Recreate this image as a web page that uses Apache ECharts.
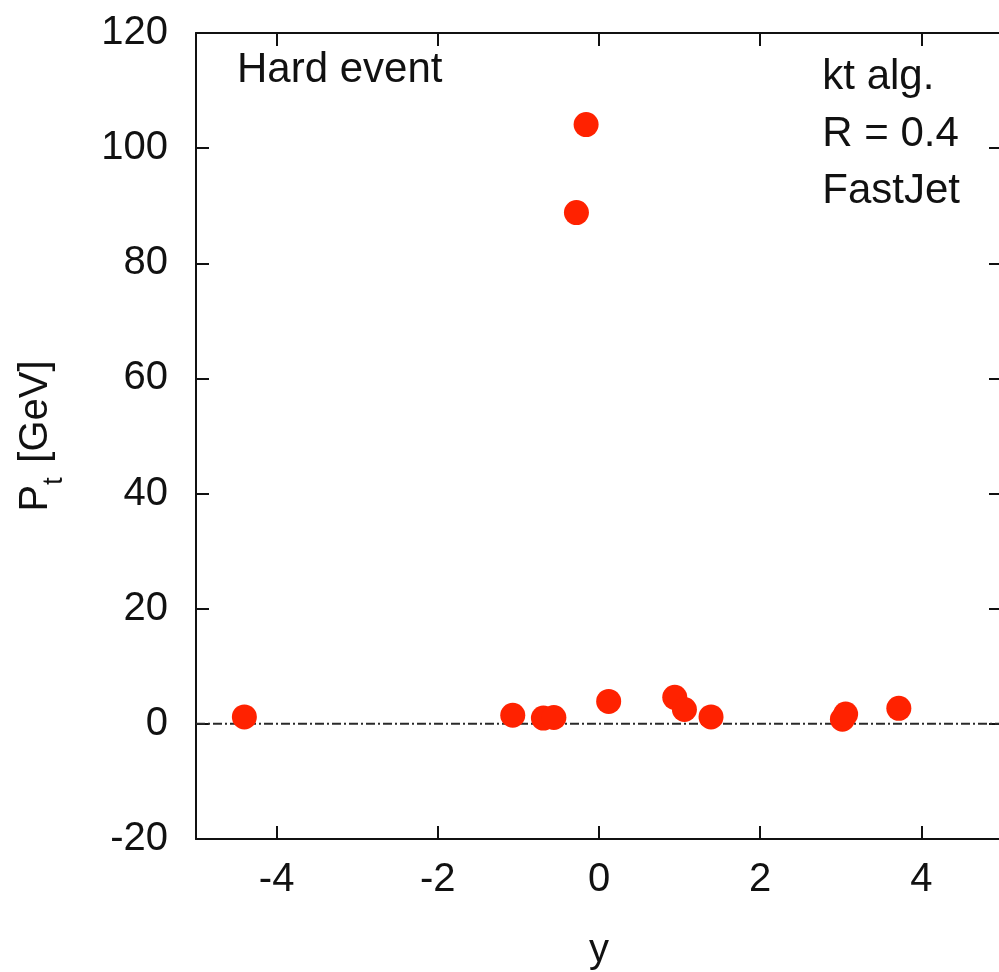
<!DOCTYPE html>
<html>
<head>
<meta charset="utf-8">
<script src="https://cdn.jsdelivr.net/npm/echarts@6/dist/echarts.min.js"></script>
<style>html,body{margin:0;padding:0;background:#fff}#c{width:999px;height:972px}</style>
</head>
<body>
<div id="c"></div>
<script>
// jet rapidity y and transverse momentum Pt [GeV]
var jetY  = [-4.40, -1.07, -0.69, -0.56, 0.12, 0.94, 1.06, 1.39, 3.02, 3.06, 3.72, -0.16, -0.28];
var jetPt = [1.2, 1.5, 1.0, 1.1, 3.9, 4.6, 2.5, 1.2, 0.8, 1.7, 2.7, 104.1, 88.8];
var xTicks = [-4, -2, 0, 2, 4];
var yTicks = [-20, 0, 20, 40, 60, 80, 100, 120];
var zeroLine = [[-5, 0], [5, 0]];

var points = jetY.map(function (v, i) { return [v, jetPt[i]]; });
var FONT = 'Liberation Sans, Arial, Helvetica, sans-serif';
var axisLine = { show: true, onZero: false, lineStyle: { color: '#111', width: 2 } };
var tick = { show: true, inside: true, length: 13, lineStyle: { color: '#111', width: 2 } };

var chart = echarts.init(document.getElementById('c'), null, { renderer: 'canvas' });
chart.setOption({
  animation: false,
  backgroundColor: '#fff',
  grid: { left: 196, top: 33, width: 806, height: 806, containLabel: false, outerBoundsMode: 'none' },
  xAxis: [{
    type: 'value', min: -5, max: 5, position: 'bottom',
    name: 'y', nameLocation: 'middle', nameGap: 92,
    nameTextStyle: { fontFamily: FONT, fontSize: 40, color: '#111' },
    axisLine: axisLine,
    axisTick: Object.assign({}, tick, { customValues: xTicks }),
    axisLabel: { customValues: xTicks, margin: 21, fontFamily: FONT, fontSize: 40, color: '#111' },
    splitLine: { show: false }
  }, {
    type: 'value', min: -5, max: 5, position: 'top',
    axisLine: axisLine,
    axisTick: Object.assign({}, tick, { customValues: xTicks }),
    axisLabel: { show: false },
    splitLine: { show: false }
  }],
  yAxis: [{
    type: 'value', min: -20, max: 120, interval: 20, position: 'left',
    name: '{p|P}{s|t} {p| [GeV]}', nameLocation: 'middle', nameGap: 140, nameRotate: 90,
    nameTextStyle: {
      rich: {
        p: { fontFamily: FONT, fontSize: 40, color: '#111' },
        s: { fontFamily: FONT, fontSize: 28, color: '#111', verticalAlign: 'bottom', padding: [0, 0, -12, 0] }
      }
    },
    axisLine: axisLine,
    axisTick: tick,
    axisLabel: { margin: 28, fontFamily: FONT, fontSize: 40, color: '#111' },
    splitLine: { show: false }
  }, {
    type: 'value', min: -20, max: 120, interval: 20, position: 'right',
    axisLine: axisLine,
    axisTick: tick,
    axisLabel: { show: false },
    splitLine: { show: false }
  }],
  series: [{
    type: 'line', data: zeroLine, symbol: 'none', silent: true,
    lineStyle: { color: '#2a2a2a', width: 2, type: [9, 3, 2, 3] }, z: 1
  }, {
    type: 'scatter', data: points, symbol: 'circle', symbolSize: 25,
    itemStyle: { color: '#ff2200', opacity: 1 }, z: 3
  }],
  graphic: [
    { type: 'text', left: 237, top: 49, style: { text: 'Hard event', font: '42px ' + FONT, fill: '#111' } },
    { type: 'text', right: 39, top: 49, style: { text: 'kt alg.\nR = 0.4\nFastJet', font: '42px ' + FONT, fill: '#111', align: 'right', lineHeight: 57 } }
  ]
});
</script>
</body>
</html>
